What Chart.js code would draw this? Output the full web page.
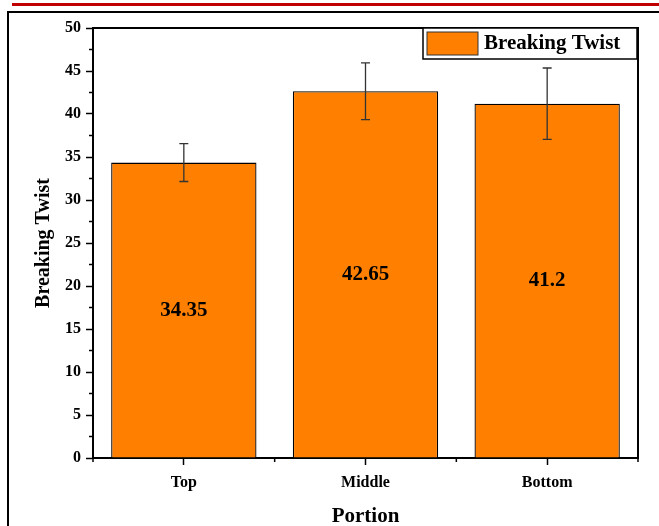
<!DOCTYPE html>
<html>
<head>
<meta charset="utf-8">
<script src="https://cdn.jsdelivr.net/npm/chart.js@4.4.1/dist/chart.umd.min.js"></script>
<style>
  html, body { margin: 0; padding: 0; background: #fff; }
  #wrap { width: 659px; height: 526px; position: relative; }
</style>
</head>
<body>
<div id="wrap"><canvas id="grafico" width="659" height="526"></canvas></div>
<script>
// Datos del gráfico
const categorias = ["Top", "Middle", "Bottom"];
const valores = [34.35, 42.65, 41.2];
const errores = [2.2, 3.3, 4.15];
const etiquetasValor = ["34.35", "42.65", "41.2"];
const ticksY = [0, 5, 10, 15, 20, 25, 30, 35, 40, 45, 50];

const fuente = "'Liberation Serif', 'Times New Roman', serif";

// Plugin: marco de página, ejes, ticks menores, barras de error, etiquetas y leyenda
const extras = {
  id: 'extras',
  beforeDraw(chart) {
    const ctx = chart.ctx;
    ctx.save();
    // línea roja superior
    ctx.fillStyle = '#c00000';
    ctx.fillRect(12, 3, 659, 3);
    // marco negro de la página
    ctx.strokeStyle = '#000';
    ctx.lineWidth = 2;
    ctx.beginPath();
    ctx.moveTo(8, 526);
    ctx.lineTo(8, 12);
    ctx.lineTo(659, 12);
    ctx.stroke();
    ctx.restore();
  },
  afterDatasetsDraw(chart) {
    const ctx = chart.ctx;
    const x = chart.scales.x, y = chart.scales.y;
    const area = chart.chartArea;
    ctx.save();

    // barras de error
    ctx.strokeStyle = '#333';
    ctx.lineWidth = 1.3;
    valores.forEach((v, i) => {
      const px = x.getPixelForValue(i);
      const top = y.getPixelForValue(v + errores[i]);
      const bot = y.getPixelForValue(v - errores[i]);
      ctx.beginPath();
      ctx.moveTo(px, top); ctx.lineTo(px, bot);
      ctx.moveTo(px - 4.5, top); ctx.lineTo(px + 4.5, top);
      ctx.moveTo(px - 4.5, bot); ctx.lineTo(px + 4.5, bot);
      ctx.stroke();
    });

    // etiquetas de valor
    ctx.fillStyle = '#000';
    ctx.font = "bold 21px " + fuente;
    ctx.textAlign = 'center';
    ctx.textBaseline = 'middle';
    valores.forEach((v, i) => {
      const px = x.getPixelForValue(i);
      const py = y.getPixelForValue(v / 2);
      ctx.fillText(etiquetasValor[i], px, py);
    });

    // marco del área (arriba y derecha)
    ctx.strokeStyle = '#000';
    ctx.lineWidth = 2;
    ctx.beginPath();
    ctx.moveTo(area.left, area.top);
    ctx.lineTo(area.right, area.top);
    ctx.lineTo(area.right, area.bottom);
    ctx.stroke();

    // ticks menores eje Y
    ctx.lineWidth = 1.5;
    ctx.beginPath();
    for (let t = 2.5; t < 50; t += 5) {
      const py = y.getPixelForValue(t);
      ctx.moveTo(area.left, py); ctx.lineTo(area.left - 4, py);
    }
    // ticks menores eje X (entre categorías)
    for (let i = -0.5; i <= categorias.length - 0.5; i += 1) {
      const px = x.getPixelForValue(i);
      ctx.moveTo(px, area.bottom); ctx.lineTo(px, area.bottom + 4);
    }
    ctx.stroke();

    // leyenda
    const lx = 423, ly = 28, lw = 214, lh = 31;
    ctx.fillStyle = '#fff';
    ctx.fillRect(lx, ly, lw, lh);
    ctx.strokeStyle = '#000';
    ctx.lineWidth = 1.5;
    ctx.strokeRect(lx, ly, lw, lh);
    ctx.fillStyle = '#ff8000';
    ctx.fillRect(427, 32, 51, 23);
    ctx.strokeStyle = '#333';
    ctx.lineWidth = 1;
    ctx.strokeRect(427, 32, 51, 23);
    ctx.fillStyle = '#000';
    ctx.font = "bold 21px " + fuente;
    ctx.textAlign = 'left';
    ctx.textBaseline = 'middle';
    ctx.fillText('Breaking Twist', 484, 44);
    ctx.restore();
  }
};

new Chart(document.getElementById('grafico').getContext('2d'), {
  type: 'bar',
  data: {
    labels: categorias,
    datasets: [{
      label: 'Breaking Twist',
      data: valores,
      backgroundColor: '#ff8000',
      borderColor: '#000',
      borderWidth: 1.3,
      categoryPercentage: 0.8,
      barPercentage: 1.0
    }]
  },
  options: {
    responsive: false,
    animation: false,
    devicePixelRatio: 1,
    layout: { padding: { left: 32, right: 21, top: 28, bottom: 0 } },
    plugins: {
      legend: { display: false },
      tooltip: { enabled: false }
    },
    scales: {
      x: {
        offset: true,
        grid: {
          offset: false,
          drawOnChartArea: false,
          tickLength: 7,
          tickWidth: 1.5,
          color: '#000'
        },
        border: { color: '#000', width: 2 },
        ticks: {
          color: '#000',
          padding: 8,
          font: { family: fuente, weight: 'bold', size: 16 }
        },
        title: {
          display: true,
          text: 'Portion',
          color: '#000',
          padding: { top: 6, bottom: -3 },
          font: { family: fuente, weight: 'bold', size: 21 }
        },
        afterFit(scale) { scale.height = 68; }
      },
      y: {
        min: 0,
        max: 50,
        afterBuildTicks(scale) { scale.ticks = ticksY.map(v => ({ value: v })); },
        grid: {
          drawOnChartArea: false,
          tickLength: 7,
          tickWidth: 1.5,
          color: '#000'
        },
        border: { color: '#000', width: 2 },
        ticks: {
          color: '#000',
          padding: 5,
          font: { family: fuente, weight: 'bold', size: 16 }
        },
        title: {
          display: true,
          text: 'Breaking Twist',
          color: '#000',
          padding: { top: 0, bottom: 8 },
          font: { family: fuente, weight: 'bold', size: 20 }
        },
        afterFit(scale) { scale.width = 61; }
      }
    }
  },
  plugins: [extras]
});
</script>
</body>
</html>
